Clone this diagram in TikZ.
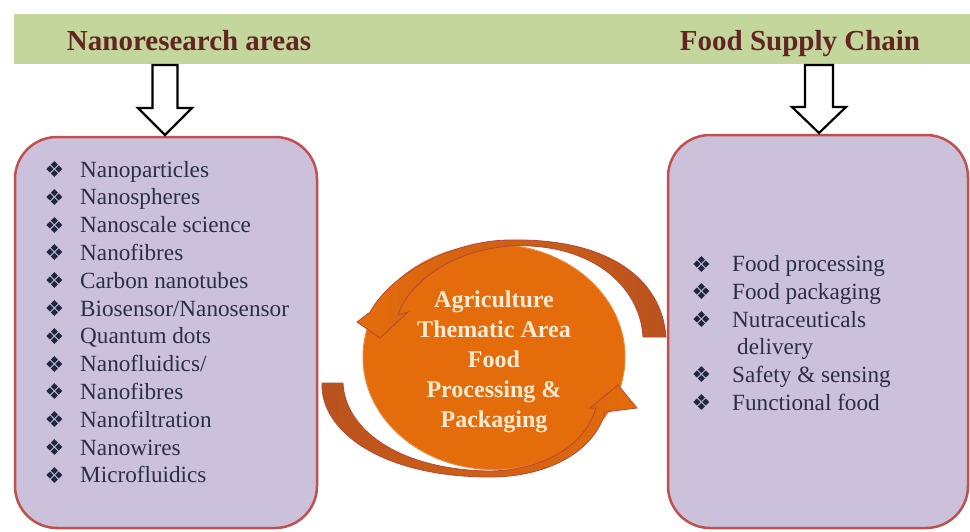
\documentclass[tikz,border=0pt]{standalone}
\usepackage{fontspec}
\setmainfont{Liberation Serif}
\newfontfamily\dvfont{DejaVu Sans}
\usetikzlibrary{shapes.geometric}
\definecolor{bandgreen}{HTML}{C3D69B}
\definecolor{titlered}{HTML}{632523}
\definecolor{boxfill}{HTML}{CCC1DA}
\definecolor{boxline}{HTML}{C0504D}
\definecolor{hubfill}{HTML}{E46C0A}
\definecolor{hubtxt}{HTML}{FDEBD3}
\definecolor{rust}{HTML}{B9521F}
\definecolor{arrline}{HTML}{B8483A}
\definecolor{listtxt}{HTML}{2A2E48}
\definecolor{bulcol}{HTML}{1F2740}
\begin{document}
\begin{tikzpicture}[x=1pt,y=-1pt,
  titletext/.style={font=\fontsize{29}{34}\selectfont\bfseries, text=titlered, inner sep=0, anchor=base},
  listbox/.style={draw=boxline, line width=2.5pt, fill=boxfill, rounded corners=42pt, inner sep=0},
  itemtext/.style={font=\fontsize{23.2}{27}\selectfont, text=listtxt, inner sep=0, anchor=base west},
  bulletmark/.style={font=\dvfont\fontsize{22}{22}\selectfont, text=bulcol, inner sep=0, anchor=center},
  downarrow/.style={draw=black, fill=white, line width=2.2pt, line join=miter},
  curvearrow/.style={draw=arrline, line width=0.8pt},
  hubtext/.style={font=\fontsize{24}{30}\selectfont\bfseries, text=hubtxt, align=center, inner sep=0}
]
\useasboundingbox (0,0) rectangle (970,531);

% title band
\node[fill=bandgreen, minimum width=956pt, minimum height=50pt, inner sep=0, anchor=north west] (band) at (14,14) {};
\node[titletext] (t1) at (189,50) {Nanoresearch areas};
\node[titletext] (t2) at (800,50) {Food Supply Chain};

% boxes
\node[listbox, minimum width=302pt, minimum height=391pt] (leftbox) at (166,332.5) {};
\node[listbox, minimum width=300pt, minimum height=393pt] (rightbox) at (818,331.5) {};

% down arrows
\draw[downarrow] (152.5,65) -- (152.5,108) -- (138,108) -- (165,135) -- (192,108) -- (177.5,108) -- (177.5,65) -- cycle;
\draw[downarrow] (805,65) -- (805,107) -- (792,107) -- (819,133) -- (846,107) -- (833,107) -- (833,65) -- cycle;

% hub
\node[ellipse, fill=hubfill, draw=hubfill!80!white, line width=1pt, minimum width=262pt, minimum height=225pt, inner sep=0] (hub) at (494,357) {};

% upper curved arrow (tail at right, head at left)
\path[curvearrow, left color=hubfill, right color=rust]
  (666,337) .. controls (662,280) and (610,238) .. (510,240)
  .. controls (460,240) and (395,268) .. (370,312)
  -- (357,322) -- (380,338) -- (408,312) -- (398,315)
  .. controls (410,280) and (455,250) .. (510,246)
  .. controls (590,242) and (640,285) .. (643,337) -- cycle;

% lower curved arrow (tail at left, head at right)
\path[curvearrow, left color=rust, right color=hubfill]
  (322,383) .. controls (320,430) and (380,477) .. (490,477)
  .. controls (550,477) and (595,450) .. (605,412)
  -- (637,408) -- (618,385) -- (590,408) -- (596,408)
  .. controls (585,445) and (545,470) .. (490,471)
  .. controls (400,470) and (345,430) .. (343,383) -- cycle;

\node[hubtext] (hubt) at (494,362) {Agriculture\\Thematic Area\\Food\\Processing \&\\Packaging};

% left list
\foreach \t [count=\i] in {Nanoparticles,Nanospheres,Nanoscale science,Nanofibres,Carbon nanotubes,Biosensor/Nanosensor,Quantum dots,Nanofluidics/,Nanofibres,Nanofiltration,Nanowires,Microfluidics}{
  \node[itemtext] (li\i) at (80,{177+27.8*(\i-1)}) {\t};
  \node[bulletmark] (lb\i) at (54.5,{177+27.8*(\i-1)-7.5}) {❖};
}

% right list
\node[itemtext] (ri1) at (732,271.7) {Food processing};
\node[itemtext] (ri2) at (732,299.4) {Food packaging};
\node[itemtext] (ri3) at (732,327.1) {Nutraceuticals};
\node[itemtext] (ri4) at (737,354.8) {delivery};
\node[itemtext] (ri5) at (732,382.5) {Safety \& sensing};
\node[itemtext] (ri6) at (732,410.2) {Functional food};
\foreach \y [count=\i] in {271.7,299.4,327.1,382.5,410.2}{
  \node[bulletmark] (rb\i) at (701.5,{\y-7.5}) {❖};
}
\end{tikzpicture}
\end{document}
